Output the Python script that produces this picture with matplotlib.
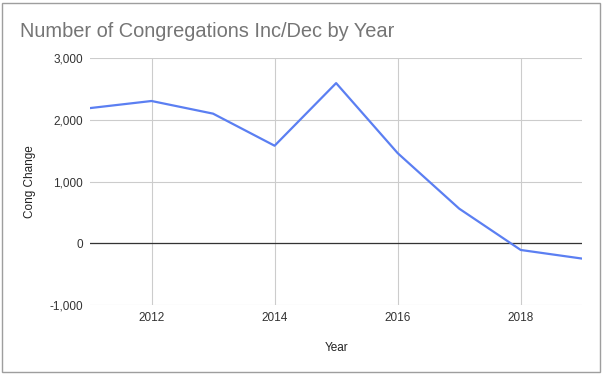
import matplotlib.pyplot as plt
from matplotlib.patches import Rectangle
from matplotlib.ticker import FuncFormatter

years = [2011, 2012, 2013, 2014, 2015, 2016, 2017, 2018, 2019]
cong_change = [2190, 2305, 2100, 1580, 2595, 1460, 560, -110, -250]
y_ticks = [-1000, 0, 1000, 2000, 3000]
x_ticks = [2012, 2014, 2016, 2018]

plt.rcParams['font.family'] = ['Liberation Sans', 'DejaVu Sans']

fig = plt.figure(figsize=(6.04, 3.75), dpi=100)
ax = fig.add_axes([0.149, 0.187, 0.815, 0.658])

# outer chart border
fig.patches.append(Rectangle((0.004, 0.008), 0.99, 0.984, transform=fig.transFigure,
                             fill=False, edgecolor='#9e9e9e', linewidth=1))

ax.plot(years, cong_change, color='#5b7ff2', linewidth=1.6, zorder=3)
ax.axhline(0, color='#333333', linewidth=0.9, zorder=2)

ax.set_xlim(2011, 2019)
ax.set_ylim(-1000, 3000)
ax.set_xticks(x_ticks)
ax.set_yticks(y_ticks)
ax.yaxis.set_major_formatter(FuncFormatter(lambda v, p: f"{int(v):,}"))
ax.grid(True, color='#cccccc', linewidth=0.8, zorder=1)
ax.tick_params(length=0, labelsize=8.5, colors='#333333', pad=5)
for s in ax.spines.values():
    s.set_visible(False)

ax.set_xlabel('Year', fontsize=8.5, color='#222222', labelpad=13)
ax.set_ylabel('Cong Change', fontsize=8.5, color='#222222', labelpad=10)

fig.text(0.033, 0.915, 'Number of Congregations Inc/Dec by Year', fontsize=14.4,
         color='#757575', va='center', ha='left')

fig.savefig('out.png', dpi=100)
